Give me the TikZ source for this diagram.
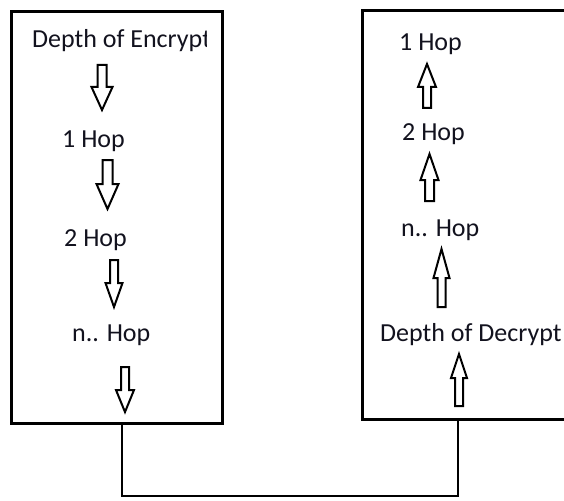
\documentclass[tikz,border=0pt]{standalone}
\usepackage{fontspec}
\setmainfont{Carlito}
\definecolor{inkline}{RGB}{0,0,0}
\definecolor{inktext}{RGB}{18,18,30}
% hollow block arrow: centre x, base y, head y, tip y, shaft half-width, head half-width
\newcommand{\blockarrow}[6]{%
  \draw[hollowarrow] ({#1-#5},#2) -- ({#1+#5},#2) -- ({#1+#5},#3) -- ({#1+#6},#3)
    -- (#1,#4) -- ({#1-#6},#3) -- ({#1-#5},#3) -- cycle;}
\begin{document}
\begin{tikzpicture}[x=1pt,y=-1pt,
  panel/.style={draw=inkline,line width=3pt,rectangle,inner sep=0pt},
  frame/.style={draw=inkline,line width=3pt},
  hollowarrow/.style={draw=inkline,fill=white,line width=2pt,line join=miter},
  label/.style={anchor=base west,inner sep=0pt,text=inktext,font=\fontsize{26}{31}\selectfont},
  wire/.style={draw=inkline,line width=2.6pt}]
\useasboundingbox (0,0) rectangle (564,500);
\clip (0,0) rectangle (564,500);

% encryption panel
\node[panel,minimum width=211pt,minimum height=411pt] (encbox) at (116.5,217.5) {};
% decryption panel, open past the right page edge
\coordinate (dectr) at (600,11);
\coordinate (dectl) at (362,11);
\coordinate (decbl) at (362,419);
\coordinate (decbr) at (600,419);
\draw[frame] (dectr) -- (dectl) -- (decbl) -- (decbr);

% encryption side (last letter cut short)
\begin{scope}
  \clip (0,0) rectangle (206.5,500);
  \node[label] (enc) at (32,48) {Depth of Encrypt};
\end{scope}
\node[label] (e1) at (62,147) {1 Hop};
\node[label] (e2) at (64,246) {2 Hop};
\node[label] (en) at (72,341) {n.. Hop};

\blockarrow{102}{65}{87}{110}{4.5}{10.5}
\blockarrow{107.5}{160}{184}{209}{5}{11}
\blockarrow{114}{260}{283}{307}{4}{8.5}
\blockarrow{125}{367}{390}{412}{4}{9}

% decryption side
\node[label] (d1) at (399,51) {1 Hop};
\node[label] (d2) at (402,140) {2 Hop};
\node[label] (dn) at (401,236) {n.. Hop};
\node[label] (dec) at (380,341) {Depth of Decrypt};

\blockarrow{427}{108}{87}{64}{4}{9}
\blockarrow{429.5}{201}{180}{154}{4.5}{9}
\blockarrow{441.5}{307}{278}{249}{4}{8}
\blockarrow{459}{406}{378}{354}{4}{8}

% link between the two panels
\coordinate (encout) at (122,423);
\coordinate (decin) at (458,419);
\coordinate (low) at (122,496);
\draw[wire] (encout) -- (low) -| (decin);
\end{tikzpicture}
\end{document}
